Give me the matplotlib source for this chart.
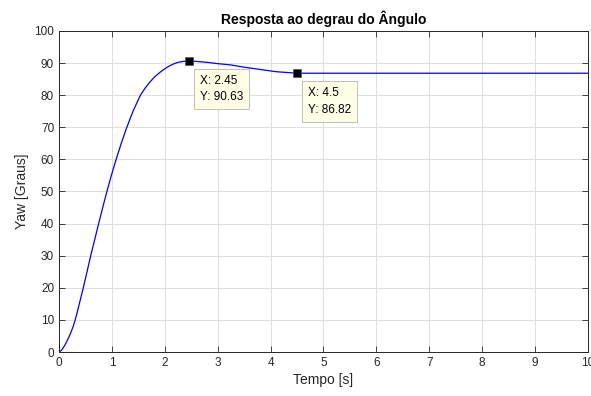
import matplotlib
matplotlib.use("Agg")
import matplotlib.pyplot as plt

### Data ###
tempo = [0, 0.05, 0.11, 0.16, 0.21, 0.27, 0.33, 0.39, 0.46, 0.60, 0.75, 0.83,
         0.90, 0.98, 1.06, 1.17, 1.27, 1.40, 1.54, 1.63, 1.72, 1.81, 1.91, 2.0,
         2.10, 2.18, 2.26, 2.35, 2.45, 2.6, 2.8, 3.0, 3.25, 3.5, 3.8, 4.1, 4.5,
         5, 6, 7, 8, 9, 10]
yaw = [0, 0.6, 2.1, 3.7, 5.5, 8.0, 11.4, 15.4, 20, 30, 40, 45.2,
       49.6, 54.4, 58.9, 64.6, 69.4, 75.0, 80, 82.2, 84.1, 85.7, 87.1, 88.2,
       89.2, 89.8, 90.25, 90.5, 90.63, 90.5, 90.2, 89.8, 89.4, 88.7, 88.0, 87.3, 86.82,
       86.82, 86.82, 86.82, 86.82, 86.82, 86.82]

tips_x = [2.45, 4.5]
tips_y = [90.63, 86.82]

xticks = list(range(0, 11))
yticks = list(range(0, 101, 10))

### Plot ###
plt.rcParams['font.family'] = ['Liberation Sans', 'DejaVu Sans']
axis_color = '#262626'

fig = plt.figure(figsize=(5.91, 3.96), dpi=100)
ax = fig.add_axes([0.0998, 0.111, 0.895, 0.811])

ax.plot(tempo, yaw, color='blue', lw=0.9)

ax.set_xlim(0, 10)
ax.set_ylim(0, 100)
ax.set_xticks(xticks)
ax.set_yticks(yticks)
ax.grid(True, color='#dedede', lw=0.7)
ax.set_axisbelow(True)
ax.tick_params(direction='in', length=4, width=0.6, colors=axis_color,
               labelsize=8.5, top=True, right=True, labeltop=False, labelright=False)
for s in ax.spines.values():
    s.set_color(axis_color)
    s.set_linewidth(0.7)

ax.set_xlabel("Tempo [s]", fontsize=10, color=axis_color, labelpad=3)
ax.set_ylabel("Yaw [Graus]", fontsize=10, color=axis_color, labelpad=4)
ax.set_title("Resposta ao degrau do Ângulo", fontsize=10, fontweight='bold',
             color='black', pad=5)

# data tips
for x, y in zip(tips_x, tips_y):
    ax.plot(x, y, 's', color='black', mec='#55553a', mew=0.5, ms=6, zorder=5)
    ax.annotate(f"X: {x:g}\nY: {y:.2f}", xy=(x, y), xytext=(8, -10),
                textcoords='offset points', ha='left', va='top', fontsize=8.5,
                color='black', linespacing=1.5,
                bbox=dict(boxstyle='square,pad=0.5', fc='#ffffe6', ec='#b4b4b4', lw=0.6))

plt.savefig("out.png", dpi=100)
